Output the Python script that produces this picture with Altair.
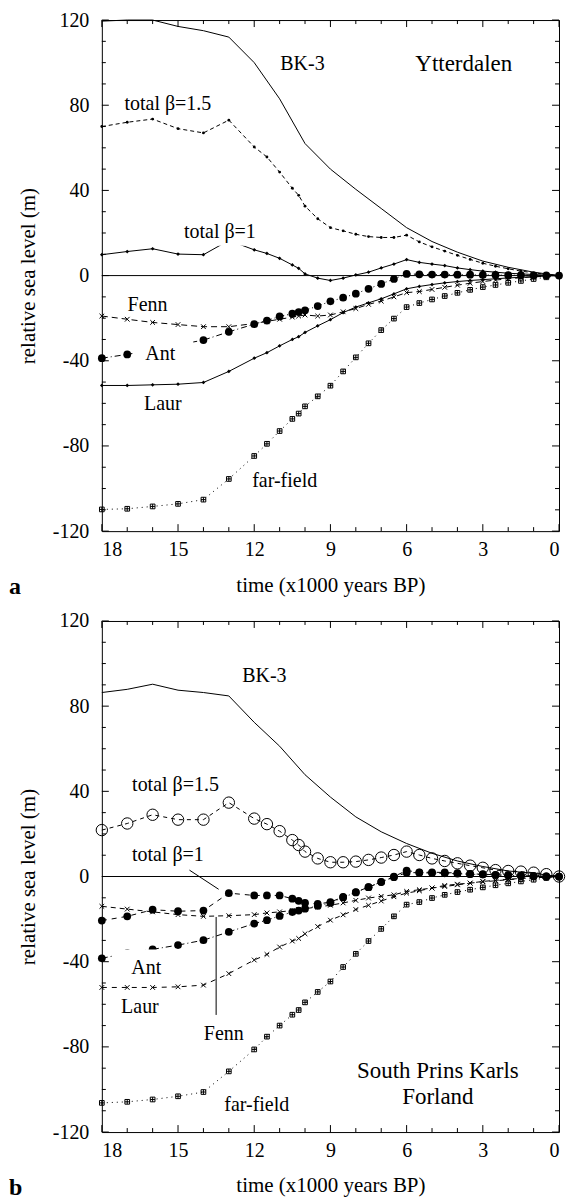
import altair as alt
import pandas as pd

# ---------------- data ----------------
T = [18, 17, 16, 15, 14, 13, 12, 11.5, 11, 10.5, 10.25, 10, 9.5, 9, 8.5, 8, 7.5, 7,
     6.5, 6, 5.5, 5, 4.5, 4, 3.5, 3, 2.5, 2, 1.5, 1, 0.5, 0]
T_BK = [18, 17, 16, 15, 14, 13, 12, 11, 10, 9, 8, 7, 6, 5, 4, 3, 2, 1, 0]

# panel a : Ytterdalen
A_BK3 = [119.5, 120, 120, 117, 115, 112, 100, 83, 62, 50, 40.5, 31.5, 22.5, 16, 11, 6.8, 3.9, 1.6, 0]
A_B15 = [70, 72, 73.5, 69, 67, 73, 60.4, 55.7, 48.6, 41, 37.7, 32.6, 26.7, 22.5, 21, 19.4, 18.3, 17.9,
         17.9, 19, 15.8, 13.5, 11.5, 9.5, 7.6, 5.8, 4.4, 3.2, 2.1, 1.3, 0.6, 0]
A_B1 = [9.8, 11.3, 12.6, 10.1, 9.8, 16.5, 12.1, 10.4, 8.1, 5, 3.4, 0.8, -1.2, -2.3, -1.2, 0.3, 1.6, 3.6,
        5.4, 7.5, 6.2, 5.4, 4.7, 3.6, 2.8, 2.1, 1.6, 1.1, 0.8, 0.5, 0.2, 0]
A_FENN = [-19, -20.5, -22, -23, -24, -24, -22.5, -21.5, -20.5, -19.5, -19, -18.5, -19, -18.5, -17, -15.5,
          -13.5, -12, -10, -8, -7.5, -6.5, -5.5, -4.5, -3.6, -2.8, -2.1, -1.5, -1, -0.6, -0.3, 0]
A_ANT = [-38.8, -37, -35, -32.5, -30.3, -26.4, -22.8, -21.1, -19.2, -17.9, -17.1, -16.3, -14.3, -12.1,
         -10.4, -8.5, -6.2, -3.9, -1.6, 0.8, 0.6, 0.5, 0.5, 0.4, 0.4, 0.3, 0.3, 0.2, 0.2, 0.1, 0.1, 0]
A_LAUR = [-51.6, -51.6, -51.3, -51, -50.2, -45, -38.8, -36.2, -33, -30, -28.7, -26.7, -23.6, -20.7, -17.4,
          -14.8, -12.8, -10.9, -8.6, -6.2, -5.1, -4.2, -3.4, -2.8, -2.3, -1.9, -1.5, -1.1, -0.8, -0.5, -0.2, 0]
A_FAR = [-109.8, -109.5, -108.4, -107.2, -105.2, -95.5, -84.7, -79, -73, -67.3, -64.8, -61.4, -56.7, -51.7,
         -45, -38.4, -31.8, -25.6, -20.2, -14.8, -12.9, -11.2, -9.6, -8.1, -6.7, -5.4, -4.4, -3.4, -2.5,
         -1.6, -0.8, 0]

# panel b : South Prins Karls Forland
B_BK3 = [86.4, 87.9, 90.3, 87.5, 86.4, 84.8, 72.4, 61.2, 47.8, 37.3, 28, 21, 15.5, 10.9, 7.3, 4.7, 2.6, 1.5, 0]
B_B15 = [21.8, 24.9, 29, 26.7, 26.7, 34.7, 27.2, 24.6, 21.3, 17.1, 14.8, 11.7, 8.5, 6.7, 6.7, 7, 7.8, 8.9,
         10.1, 11.7, 10.1, 8.5, 7.3, 6.2, 5.1, 4.1, 3, 2.6, 2.3, 1.8, 1.1, 0]
B_B1 = [-20.7, -18.7, -15.6, -16.3, -16, -7.8, -8.9, -8.9, -8.9, -10.4, -11.4, -12.4, -12.9, -12, -9.6,
        -7.3, -5, -2.6, 0, 2.8, 2, 2, 1.9, 1.6, 1.2, 1.1, 0.8, 0.6, 0.4, 0.3, 0.1, 0]
B_FENN = [-14, -15.3, -16.6, -17.9, -18.7, -18.4, -17.9, -17.1, -16.6, -16, -15.6, -15.1, -14.3, -13.5,
          -12.4, -11.2, -10.1, -9.3, -8.6, -7, -6.2, -5.4, -4.7, -3.9, -3.1, -2.3, -1.8, -1.3, -0.9,
          -0.6, -0.3, 0]
B_ANT = [-38.4, -36, -34.2, -32.2, -29.9, -26, -22.1, -20.5, -18.5, -16.7, -16, -15.1, -13.8, -12.4, -9.8,
         -7.5, -5, -2.5, -0.3, 1.8, 1.8, 1.6, 1.5, 1.3, 1.1, 0.9, 0.7, 0.5, 0.4, 0.2, 0.1, 0]
B_LAUR = [-52.1, -52.1, -52.1, -51.8, -51, -45.6, -39.2, -36.6, -33.1, -30.3, -29.1, -26.9, -23.5, -20.5,
          -18, -15.5, -13.5, -11.5, -9.5, -7.8, -6.7, -5.4, -4.2, -3.6, -3.1, -2.5, -2, -1.5, -1, -0.6,
          -0.3, 0]
B_FAR = [-106.3, -105.8, -104.7, -103.2, -101.2, -91.5, -81.2, -75.2, -70, -64.9, -62.7, -59.1, -54.2,
         -49.3, -42.5, -36.3, -30.3, -24.6, -18.7, -13.2, -12, -10.1, -8.6, -7.3, -6.2, -5.1, -4.1, -3.2,
         -2.3, -1.5, -0.7, 0]

# annotations (text, time, level, font size)
A_LAB_TEXT = ["BK-3", "Ytterdalen", "total β=1.5", "total β=1", "Fenn", "Ant", "Laur", "far-field"]
A_LAB_T = [10.1, 3.75, 15.4, 13.35, 16.2, 15.7, 15.6, 10.8]
A_LAB_V = [99.5, 99.5, 80.4, 20.5, -14, -36.8, -60.1, -96.3]
A_LAB_SIZE = [20, 23, 20, 20, 20, 20, 20, 20]
# white masks behind labels (t1, t2, v1, v2)
A_MASK = [(14.9, 11.8, 14, 27), (16.8, 14.4, -42, -29.5)]

B_LAB_TEXT = ["BK-3", "total β=1.5", "total β=1", "Ant", "Laur", "Fenn", "far-field",
              "South Prins Karls", "Forland"]
B_LAB_T = [11.6, 15.1, 15.4, 16.25, 16.5, 13.2, 11.9, 4.77, 4.77]
B_LAB_V = [94, 43, 10.1, -42.8, -61.5, -74, -107.4, -91.3, -103.6]
B_LAB_SIZE = [20, 20, 20, 20, 20, 20, 20, 23, 23]
B_MASK = [(17.6, 15.5, -48, -34.3)]
# pointer lines (t1, v1, t2, v2)
B_POINTERS = [(14.55, 3, 13.4, -6), (13.5, -19, 13.5, -65)]

X_TICKS = [18, 15, 12, 9, 6, 3, 0]
X_MINOR = [17, 16, 14, 13, 11, 10, 8, 7, 5, 4, 2, 1]
Y_TICKS = [-120, -80, -40, 0, 40, 80, 120]
Y_MINOR = [-110, -100, -90, -70, -60, -50, -30, -20, -10, 10, 20, 30, 50, 60, 70, 90, 100, 110]

# ---------------- styling ----------------
W, H = 458, 512
FONT = "Liberation Serif"
X_SCALE = alt.Scale(domain=[0, 18], reverse=True, nice=False, zero=False)
Y_SCALE = alt.Scale(domain=[-120, 120], nice=False, zero=False)
XAX = alt.Axis(values=X_TICKS, title="time (x1000 years BP)", labelExpr="'' + datum.value")
YAX = alt.Axis(values=Y_TICKS, title="relative sea level (m)", labelExpr="'' + datum.value")

X_SHAPE = "M-1,-1L1,1M-1,1L1,-1"
SQ_SHAPE = "M-1,-1L1,-1L1,1L-1,1Z M0,-1L0,1 M-1,0L1,0"


def xenc(field="t"):
    return alt.X(f"{field}:Q", scale=X_SCALE, axis=XAX)


def yenc(field="v"):
    return alt.Y(f"{field}:Q", scale=Y_SCALE, axis=YAX)


def series(t, v, dash, shape=None, size=0, filled=True, sw=1.0):
    df = pd.DataFrame({"t": t, "v": v})
    base = alt.Chart(df).encode(x=xenc(), y=yenc())
    line_kw = dict(color="black", strokeWidth=sw)
    if dash:
        line_kw["strokeDash"] = dash
    layers = [base.mark_line(**line_kw)]
    if shape:
        pt_kw = dict(shape=shape, size=size, color="black", opacity=1, strokeWidth=1)
        if filled:
            pt_kw.update(filled=True)
        else:
            pt_kw.update(filled=False, fill="white", fillOpacity=0)
        layers.append(base.mark_point(**pt_kw))
    return layers


def ticks_layers():
    ym = pd.DataFrame({"v": Y_TICKS})
    yn = pd.DataFrame({"v": Y_MINOR})
    xm = pd.DataFrame({"t": X_TICKS})
    xn = pd.DataFrame({"t": X_MINOR})
    out = []
    for df, ln in ((ym, 7), (yn, 4)):
        c = alt.Chart(df)
        out.append(c.mark_rule(color="black", strokeWidth=1).encode(
            y=yenc(), x=alt.value(0), x2=alt.value(ln)))
        out.append(c.mark_rule(color="black", strokeWidth=1).encode(
            y=yenc(), x=alt.value(W - ln), x2=alt.value(W)))
    for df, ln in ((xm, 7), (xn, 4)):
        c = alt.Chart(df)
        out.append(c.mark_rule(color="black", strokeWidth=1).encode(
            x=xenc(), y=alt.value(0), y2=alt.value(ln)))
        out.append(c.mark_rule(color="black", strokeWidth=1).encode(
            x=xenc(), y=alt.value(H - ln), y2=alt.value(H)))
    return out


def panel(data_layers, lab_text, lab_t, lab_v, lab_size, masks, pointers, letter):
    zero = alt.Chart(pd.DataFrame({"v": [0]})).mark_rule(color="black", strokeWidth=1).encode(y=yenc())
    layers = [zero] + data_layers
    if masks:
        mdf = pd.DataFrame({"t": [m[0] for m in masks], "t2": [m[1] for m in masks],
                            "v": [m[2] for m in masks], "v2": [m[3] for m in masks]})
        layers.append(alt.Chart(mdf).mark_rect(color="white", opacity=1).encode(
            x=xenc(), x2="t2:Q", y=yenc(), y2="v2:Q"))
    if pointers:
        pdf = pd.DataFrame({"t": [p[0] for p in pointers], "v": [p[1] for p in pointers],
                            "t2": [p[2] for p in pointers], "v2": [p[3] for p in pointers]})
        layers.append(alt.Chart(pdf).mark_rule(color="black", strokeWidth=1).encode(
            x=xenc(), x2="t2:Q", y=yenc(), y2="v2:Q"))
    ldf = pd.DataFrame({"s": lab_text, "t": lab_t, "v": lab_v, "fs": lab_size})
    for fs in sorted(set(lab_size)):
        sub = ldf[ldf.fs == fs]
        layers.append(alt.Chart(sub).mark_text(font=FONT, fontSize=fs, color="black",
                                               align="center", baseline="middle").encode(
            x=xenc(), y=yenc(), text="s:N"))
    layers += ticks_layers()
    layers.append(alt.Chart(pd.DataFrame({"s": [letter]})).mark_text(
        font=FONT, fontSize=24, fontWeight="bold", color="black", align="left", baseline="middle").encode(
        text="s:N", x=alt.value(-93), y=alt.value(H + 56)))
    return alt.layer(*layers).properties(width=W, height=H)


top_series = (
    series(T_BK, A_BK3, None)
    + series(T, A_B15, [4, 3], "circle", 8)
    + series(T, A_B1, None, "diamond", 14)
    + series(T, A_FENN, [6, 4], X_SHAPE, 22, filled=False)
    + series(T, A_ANT, [6, 3, 1, 3], "circle", 60)
    + series(T, A_LAUR, None, "diamond", 14)
    + series(T, A_FAR, [1, 4], SQ_SHAPE, 22, filled=False)
)
bot_series = (
    series(T_BK, B_BK3, None)
    + series(T, B_B15, [4, 4], "circle", 130, filled=False)
    + series(T, B_B1, [5, 5], "circle", 60)
    + series(T, B_FENN, [5, 4], X_SHAPE, 22, filled=False)
    + series(T, B_ANT, [6, 3, 1, 3], "circle", 60)
    + series(T, B_LAUR, [5, 5], X_SHAPE, 22, filled=False)
    + series(T, B_FAR, [1, 4], SQ_SHAPE, 22, filled=False)
)

top = panel(top_series, A_LAB_TEXT, A_LAB_T, A_LAB_V, A_LAB_SIZE, A_MASK, None, "a")
bot = panel(bot_series, B_LAB_TEXT, B_LAB_T, B_LAB_V, B_LAB_SIZE, B_MASK, B_POINTERS, "b")

chart = alt.vconcat(top, bot, spacing=10).properties(
    padding={"left": 0, "top": 0, "right": 0, "bottom": 0}
).configure_view(stroke="black", strokeWidth=1).configure_axis(
    labelFont=FONT, labelFontSize=20, labelColor="black", titleFont=FONT, titleFontSize=21,
    titleFontWeight="normal", titleColor="black", ticks=False, domain=False, grid=False
).configure_axisX(labelPadding=8, titlePadding=15).configure_axisY(labelPadding=13, titlePadding=14)

chart.save("out.html", embed_options={"renderer": "svg", "actions": False})
